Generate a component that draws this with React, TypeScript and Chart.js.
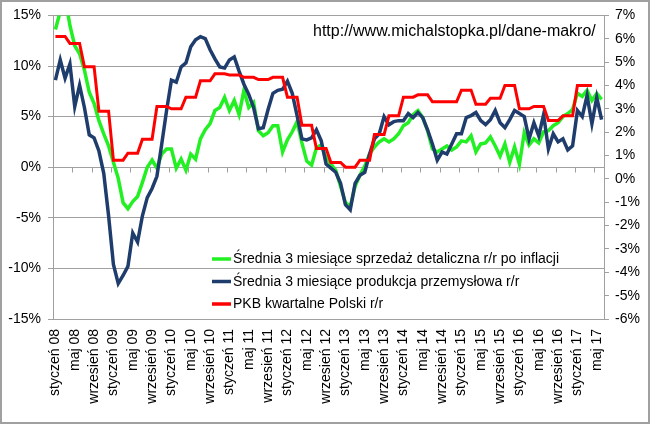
import React, { useEffect, useRef } from 'react';
import { Chart, registerables } from 'chart.js';

Chart.register(...registerables);

// ---- data ----
const monthNames = ['styczeń', 'luty', 'marzec', 'kwiecień', 'maj', 'czerwiec', 'lipiec', 'sierpień', 'wrzesień', 'październik', 'listopad', 'grudzień'];
const yearLabels = ['08', '09', '10', '11', '12', '13', '14', '15', '16', '17'];
const monthCount = 114; // styczeń 08 .. czerwiec 17
const labelEvery = 4;

const seriesLabels = [
  'Średnia 3 miesiące sprzedaż detaliczna r/r po inflacji',
  'Średnia 3 miesiące produkcja przemysłowa r/r',
  'PKB kwartalne Polski r/r',
];

const urlText = 'http://www.michalstopka.pl/dane-makro/';

// monthly, left axis (%)
const retailSales = [
  13.6, 15.4, 16.8, 14.0, 12.0, 11.2, 9.6, 7.4, 6.3, 4.6,
  3.3, 2.1, 0.5, -1.1, -3.5, -4.1, -3.4, -2.9, -1.5, 0.0,
  0.7, -0.1, 1.3, 1.8, 1.8, -0.1, 0.8, -0.3, 1.3, 0.8,
  2.8, 3.7, 4.3, 5.6, 5.9, 6.9, 5.6, 6.6, 5.2, 7.6,
  5.9, 6.4, 3.6, 3.1, 3.4, 4.1, 4.1, 1.5, 2.7, 3.5,
  4.5, 2.4, 0.6, 0.2, 1.9, 2.2, 0.9, 0.3, -0.3, -1.9,
  -3.5, -3.9, -1.9, -0.8, 0.1, 1.3, 2.0, 2.5, 2.8, 2.5,
  2.8, 3.3, 4.1, 4.4, 5.2, 5.6, 4.9, 3.6, 1.8, 1.5,
  1.8, 2.1, 1.7, 2.0, 2.6, 2.5, 3.1, 1.5, 2.3, 2.4,
  3.0, 2.1, 1.1, 2.3, 0.5, 2.0, 0.3, 3.4, 2.2, 2.8,
  2.4, 3.5, 3.6, 4.1, 4.4, 5.0, 5.3, 5.7, 7.3, 7.0,
  7.6, 6.6, 7.3, 6.7,
];

const industrialProduction = [
  8.6, 10.6, 8.8, 10.2, 6.0, 8.1, 5.9, 3.2, 2.9, 1.6,
  -0.6, -4.8, -9.6, -11.5, -10.7, -9.8, -6.5, -7.4, -4.8, -3.0,
  -2.1, -0.9, 2.3, 5.6, 8.6, 8.4, 9.9, 10.3, 11.9, 12.6,
  12.9, 12.7, 11.6, 10.7, 9.9, 9.8, 10.6, 10.9, 9.5, 8.2,
  7.2, 5.9, 3.8, 3.9, 5.7, 7.3, 7.6, 7.7, 8.5, 7.3,
  5.1, 2.8, 2.7, 2.9, 3.7, 2.6, 0.3, -0.1, -0.5, -1.6,
  -3.7, -4.2, -1.6, -0.8, -0.5, 1.3, 2.8, 3.3, 5.0, 4.2,
  4.5, 4.6, 4.6, 5.3, 4.9, 5.4, 4.9, 3.7, 2.3, 0.7,
  1.5, 1.3, 2.3, 3.3, 3.3, 4.9, 5.1, 5.4, 4.6, 4.2,
  4.7, 5.6, 4.4, 3.9, 4.7, 5.6, 5.3, 5.0, 2.8, 4.4,
  3.1, 5.2, 1.8, 3.3, 2.5, 2.8, 1.7, 2.1, 5.6, 5.0,
  7.1, 4.3, 6.9, 4.7,
];

// quarterly, right axis (%), Q1 08 .. Q2 17
const gdpQuarterly = [
  6.1, 5.8, 4.8, 2.9, 0.8, 1.1, 1.7, 3.1, 3.0, 3.5,
  4.2, 4.5, 4.45, 4.35, 4.25, 4.35, 3.5, 2.3, 1.3, 0.7,
  0.5, 0.8, 1.9, 2.7, 3.5, 3.6, 3.3, 3.3, 3.8, 3.2,
  3.45, 4.0, 3.0, 3.1, 2.5, 2.7, 4.0, 4.0,
];
const gdpMonthsShown = 112;

// ---- styling ----
const FONT = '"Liberation Sans", Arial, Helvetica, sans-serif';
const GRID = '#a0a0a0';
const GREEN = '#22f022';
const BLUE = '#1f3d6c';
const RED = '#ff0000';
const TICK_SIZE = 14;

const categories = Array.from({ length: monthCount }, (_, i) => `${monthNames[i % 12]} ${yearLabels[Math.floor(i / 12)]}`);
const gdpMonthly = categories.map((_, i) => (i < gdpMonthsShown ? gdpQuarterly[Math.floor(i / 3)] : null));

const decorPlugin = {
  id: 'decor',
  beforeDraw(chart: any) {
    const ctx = chart.ctx;
    ctx.save();
    ctx.fillStyle = '#ffffff';
    ctx.fillRect(0, 0, chart.width, chart.height);
    ctx.restore();
  },
  beforeDatasetsDraw(chart: any) {
    const ctx = chart.ctx;
    const x = chart.scales.x;
    const y = chart.scales.y;
    const y0 = Math.round(y.getPixelForValue(0)) + 0.5;
    ctx.save();
    ctx.strokeStyle = GRID;
    ctx.lineWidth = 1;
    ctx.beginPath();
    for (let k = labelEvery; k < monthCount; k += labelEvery) {
      const bx = Math.round((x.getPixelForValue(k - 1) + x.getPixelForValue(k)) / 2) + 0.5;
      ctx.moveTo(bx, y0);
      ctx.lineTo(bx, y0 + 5);
    }
    ctx.stroke();
    ctx.restore();
  },
  afterDraw(chart: any) {
    const ctx = chart.ctx;
    ctx.save();
    // URL text
    ctx.fillStyle = '#000';
    ctx.font = `16px ${FONT}`;
    ctx.textBaseline = 'alphabetic';
    ctx.textAlign = 'left';
    ctx.fillText(urlText, 313, 36);
    // legend
    const colors = [GREEN, BLUE, RED];
    ctx.font = `14px ${FONT}`;
    ctx.textBaseline = 'middle';
    seriesLabels.forEach((lab, i) => {
      const ly = 259 + i * 22.5;
      ctx.strokeStyle = colors[i];
      ctx.lineWidth = 3.5;
      ctx.beginPath();
      ctx.moveTo(212, ly);
      ctx.lineTo(231, ly);
      ctx.stroke();
      ctx.fillStyle = '#000';
      ctx.fillText(lab, 233, ly + 0.5);
    });
    // frame
    ctx.strokeStyle = GRID;
    ctx.lineWidth = 2;
    ctx.strokeRect(1, 1, chart.width - 2, chart.height - 2);
    ctx.restore();
  },
};

export default function App() {
  const ref = useRef<HTMLCanvasElement>(null);
  useEffect(() => {
    document.body.style.margin = '0';
    Chart.defaults.font.family = FONT;
    Chart.defaults.color = '#000';
    const chart = new Chart(ref.current as HTMLCanvasElement, {
      type: 'line',
      data: {
        labels: categories,
        datasets: [
          {
            label: seriesLabels[0],
            data: retailSales,
            borderColor: GREEN,
            backgroundColor: GREEN,
            borderWidth: 3.5,
            pointRadius: 0,
            tension: 0,
            yAxisID: 'y',
            order: 3,
            clip: 0,
          },
          {
            label: seriesLabels[1],
            data: industrialProduction,
            borderColor: BLUE,
            backgroundColor: BLUE,
            borderWidth: 3.5,
            pointRadius: 0,
            tension: 0,
            yAxisID: 'y',
            order: 2,
            clip: 0,
          },
          {
            label: seriesLabels[2],
            data: gdpMonthly,
            borderColor: RED,
            backgroundColor: RED,
            borderWidth: 3,
            pointRadius: 0,
            tension: 0,
            yAxisID: 'y1',
            order: 1,
            clip: 0,
          },
        ],
      },
      options: {
        responsive: false,
        animation: false,
        devicePixelRatio: 1,
        layout: { padding: { top: 11, left: 0, right: 0, bottom: 0 } },
        plugins: {
          legend: { display: false },
          tooltip: { enabled: false },
        },
        scales: {
          x: {
            type: 'category',
            offset: true,
            grid: { display: false, drawTicks: false },
            border: { display: false },
            ticks: {
              autoSkip: false,
              maxRotation: 90,
              minRotation: 90,
              padding: 10,
              color: '#000',
              font: { size: TICK_SIZE, family: FONT },
              callback: function (this: any, value: any, index: number) {
                return index % labelEvery === 0 ? this.getLabelForValue(value) : '';
              },
            },
            afterFit: (s: any) => {
              s.height = 105;
            },
          },
          y: {
            type: 'linear',
            position: 'left',
            min: -15,
            max: 15,
            grid: { color: GRID, tickLength: 5, drawTicks: true },
            border: { display: true, color: GRID },
            ticks: {
              stepSize: 5,
              padding: 7,
              color: '#000',
              font: { size: TICK_SIZE, family: FONT },
              callback: (v: any) => `${v}%`,
            },
            afterFit: (s: any) => {
              s.width = 53;
            },
          },
          y1: {
            type: 'linear',
            position: 'right',
            min: -6,
            max: 7,
            grid: { drawOnChartArea: false, color: GRID, tickLength: 5, drawTicks: true },
            border: { display: true, color: GRID },
            ticks: {
              stepSize: 1,
              padding: 6,
              color: '#000',
              font: { size: TICK_SIZE, family: FONT },
              callback: (v: any) => `${v}%`,
            },
            afterFit: (s: any) => {
              s.width = 46;
            },
          },
        },
      },
      plugins: [decorPlugin],
    } as any);
    return () => chart.destroy();
  }, []);
  return <canvas ref={ref} width={650} height={424} style={{ display: 'block' }} />;
}
